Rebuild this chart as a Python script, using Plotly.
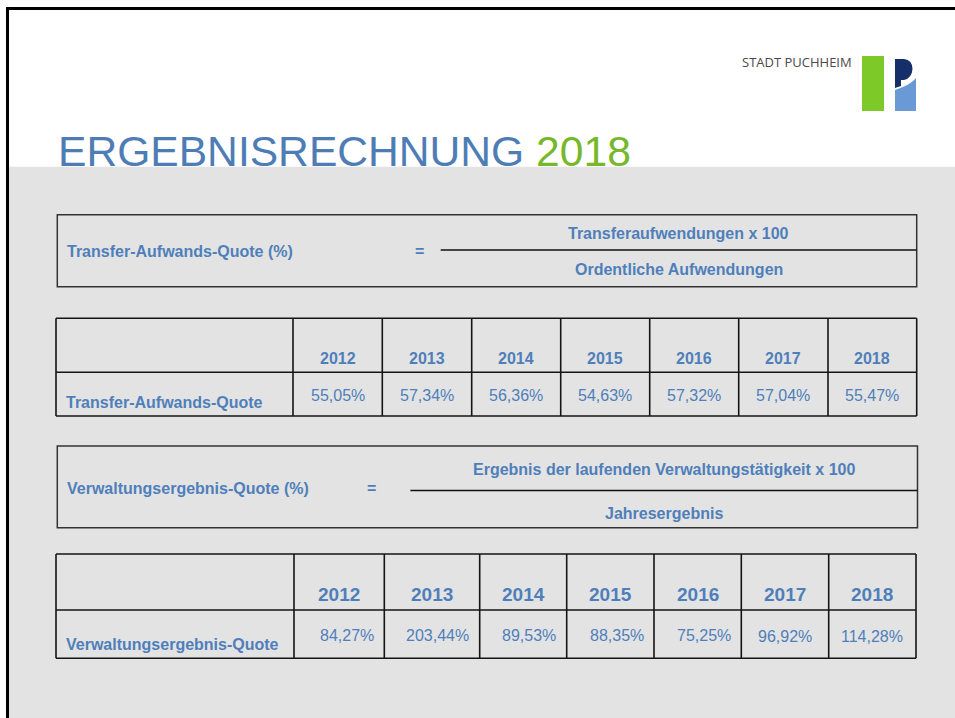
import plotly.graph_objects as go

# ---------------- data ----------------
years = ["2012", "2013", "2014", "2015", "2016", "2017", "2018"]
transfer_quote = [55.05, 57.34, 56.36, 54.63, 57.32, 57.04, 55.47]
verwaltung_quote = [84.27, 203.44, 89.53, 88.35, 75.25, 96.92, 114.28]

title_main = "ERGEBNISRECHNUNG"
title_year = "2018"
org_name = "STADT PUCHHEIM"

formula1_label = "Transfer-Aufwands-Quote (%)"
formula1_num = "Transferaufwendungen x 100"
formula1_den = "Ordentliche Aufwendungen"
formula2_label = "Verwaltungsergebnis-Quote (%)"
formula2_num = "Ergebnis der laufenden Verwaltungstätigkeit x 100"
formula2_den = "Jahresergebnis"
row_label1 = "Transfer-Aufwands-Quote"
row_label2 = "Verwaltungsergebnis-Quote"

# ---------------- style / layout ----------------
W, H = 955, 718
FONT = "Liberation Sans, Arial, sans-serif"
BLUE = "#4F7FBA"
TITLE_BLUE = "#4E7DB6"
GREEN = "#76B82A"
GRAY_BG = "#E3E3E3"
LINE = "#151515"
BOX_LINE = "#333333"
PAD = 2  # annotation inner padding compensation

t1_cols = [56, 293, 382.3, 471.7, 560.7, 649.7, 738.7, 828, 916.7]
t1_rows = [318.3, 372.3, 416]
t2_cols = [56, 294, 384.3, 479.7, 566.7, 654, 741.3, 828.7, 916]
t2_rows = [554, 610, 658.3]
t2_align = ["right"] * 5 + ["center"] * 2


def pct(v):
    return f"{v:.2f}".replace(".", ",") + "%"


fig = go.Figure()
shapes = []
ann = []


def text(x, y, s, size, bold=False, color=BLUE, xanchor="left", family=FONT):
    if xanchor == "left":
        x -= PAD
    elif xanchor == "right":
        x += PAD
    ann.append(dict(x=x, y=y, xref="x", yref="y", text=(f"<b>{s}</b>" if bold else s),
                    showarrow=False, xanchor=xanchor, yanchor="middle",
                    font=dict(family=family, size=size, color=color)))


def line(x0, y0, x1, y1, color=LINE, width=1.6):
    shapes.append(dict(type="line", x0=x0, y0=y0, x1=x1, y1=y1, xref="x", yref="y",
                       line=dict(color=color, width=width)))


# background gray area
shapes.append(dict(type="rect", x0=9, y0=166.7, x1=W, y1=H, xref="x", yref="y",
                   fillcolor=GRAY_BG, line=dict(width=0), layer="below"))
# slide frame (top and left)
line(6, 8.5, W, 8.5, color="#000000", width=3)
line(7.5, 7, 7.5, H, color="#000000", width=3)

# logo
shapes.append(dict(type="rect", x0=862, y0=56, x1=884, y1=111, xref="x", yref="y",
                   fillcolor="#7DC928", line=dict(width=0)))
shapes.append(dict(type="path",
                   path="M 895 59 L 904 59 Q 912.5 60 912.5 69 Q 912 78 904 80 L 901 80 L 901 86 L 895 88 Z",
                   xref="x", yref="y", fillcolor="#172F68", line=dict(width=0)))
shapes.append(dict(type="path", path="M 895 90 L 903 87 Q 912 83 916 78 L 916 111 L 895 111 Z",
                   xref="x", yref="y", fillcolor="#6A9AD6", line=dict(width=0)))
text(742, 61.5, org_name, 13, color="#4A4A4A", family="Open Sans, sans-serif")

# title
text(57.5, 151, f"{title_main} <span style='color:{GREEN}'>{title_year}</span>", 42.6, color=TITLE_BLUE)

# formula box 1
shapes.append(dict(type="rect", x0=57.3, y0=214.7, x1=916.7, y1=286.7, xref="x", yref="y",
                   line=dict(color=BOX_LINE, width=1.5)))
text(67, 251, formula1_label, 16, bold=True)
text(419, 251, "=", 16, bold=True, xanchor="center")
line(440.7, 250, 916.7, 250, color="#111111", width=1.5)
text(678.7, 233, formula1_num, 16, bold=True, xanchor="center")
text(678.7, 269, formula1_den, 16, bold=True, xanchor="center")

# table 1
for x in t1_cols:
    line(x, t1_rows[0], x, t1_rows[-1])
for y in t1_rows:
    line(t1_cols[0], y, t1_cols[-1], y)
text(66, 402, row_label1, 16, bold=True)
for i, (yr, v) in enumerate(zip(years, transfer_quote)):
    cx = (t1_cols[i + 1] + t1_cols[i + 2]) / 2
    text(cx, 358.5, yr, 16, bold=True, xanchor="center")
    text(cx, 395, pct(v), 16, xanchor="center")

# formula box 2
shapes.append(dict(type="rect", x0=57.3, y0=446, x1=917.5, y1=527.7, xref="x", yref="y",
                   line=dict(color=BOX_LINE, width=1.5)))
text(67, 488, formula2_label, 16, bold=True)
text(371.7, 488, "=", 16, bold=True, xanchor="center")
line(410.4, 490.5, 917.5, 490.5, color="#111111", width=1.5)
text(663.8, 469, formula2_num, 16, bold=True, xanchor="center")
text(663.8, 513.6, formula2_den, 16, bold=True, xanchor="center")

# table 2
for x in t2_cols:
    line(x, t2_rows[0], x, t2_rows[-1])
for y in t2_rows:
    line(t2_cols[0], y, t2_cols[-1], y)
text(66, 644, row_label2, 16, bold=True)
for i, (yr, v) in enumerate(zip(years, verwaltung_quote)):
    x0, x1 = t2_cols[i + 1], t2_cols[i + 2]
    cx = (x0 + x1) / 2
    text(cx, 594.5, yr, 19, bold=True, xanchor="center")
    if t2_align[i] == "right":
        text(x1 - 10.5, 635, pct(v), 16, xanchor="right")
    else:
        text(cx, 636, pct(v), 16, xanchor="center")

fig.update_layout(
    width=W, height=H,
    margin=dict(l=0, r=0, t=0, b=0),
    paper_bgcolor="white", plot_bgcolor="white",
    xaxis=dict(range=[0, W], visible=False, fixedrange=True),
    yaxis=dict(range=[H, 0], visible=False, fixedrange=True),
    shapes=shapes, annotations=ann, showlegend=False,
)
fig.write_html("out.html", config={"displayModeBar": False},
               post_script="document.body.style.margin='0';document.body.style.overflow='hidden';")
